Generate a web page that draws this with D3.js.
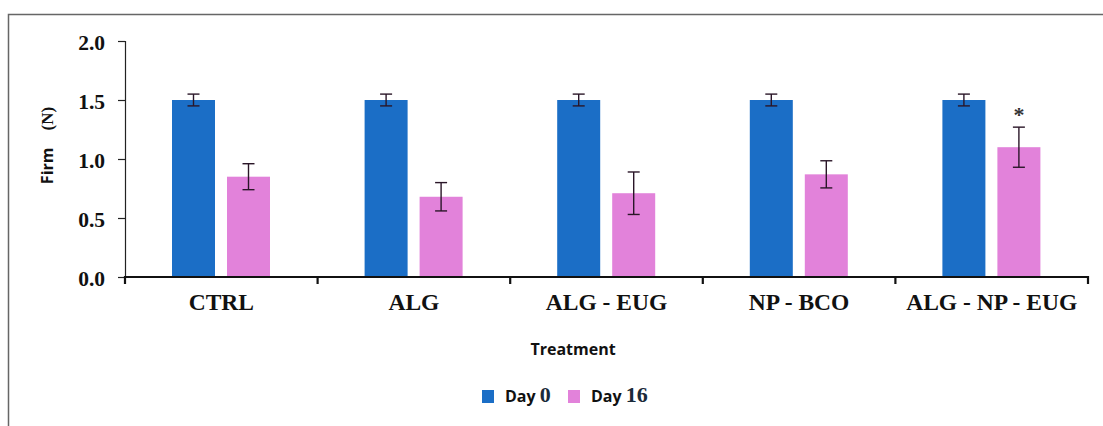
<!DOCTYPE html>
<html>
<head>
<meta charset="utf-8">
<script src="https://cdn.jsdelivr.net/npm/d3@7"></script>
<style>
html,body{margin:0;padding:0;background:#fff;}
svg{display:block;}
</style>
</head>
<body>
<svg id="chart" width="1103" height="426"></svg>
<script>
const categories = ["CTRL", "ALG", "ALG - EUG", "NP - BCO", "ALG - NP - EUG"];
const seriesNames = ["Day 0", "Day 16"];
const day0 = [1.5, 1.5, 1.5, 1.5, 1.5];
const day0Err = [0.05, 0.05, 0.05, 0.05, 0.05];
const day16 = [0.85, 0.68, 0.71, 0.87, 1.10];
const day16Err = [0.11, 0.12, 0.18, 0.115, 0.17];
const significance = ["", "", "", "", "*"];
const yTicks = [0, 0.5, 1.0, 1.5, 2.0];
const colors = ["#1b6ec6", "#e282da"];

const svg = d3.select("#chart");

// frame
svg.append("path")
  .attr("d", "M8.5,426 L8.5,14.5 L1103,14.5")
  .attr("fill", "none").attr("stroke", "#666").attr("stroke-width", 1.5);

const x = d3.scaleBand().domain(categories).range([125, 1088]).paddingInner(0).paddingOuter(0);
const bw = x.bandwidth();
const xs = d3.scaleBand().domain(seriesNames)
  .range([bw * 47 / 192.6, bw * 145 / 192.6]).paddingInner(12 / 55).paddingOuter(0);
const y = d3.scaleLinear().domain([0, 2]).range([277, 41]);

const data = categories.map((c, i) => ({
  cat: c,
  vals: [
    {s: seriesNames[0], v: day0[i], e: day0Err[i], sig: ""},
    {s: seriesNames[1], v: day16[i], e: day16Err[i], sig: significance[i]}
  ]
}));

// y axis
const yAxis = d3.axisLeft(y).tickValues(yTicks).tickFormat(d3.format(".1f")).tickSize(7).tickPadding(13);
const gy = svg.append("g").attr("transform", "translate(125,0)").call(yAxis);
gy.select(".domain").attr("stroke", "#222").attr("stroke-width", 1.2);
gy.selectAll(".tick line").attr("stroke", "#222").attr("stroke-width", 1.2);
gy.selectAll(".tick text")
  .attr("font-family", "'Liberation Serif', 'Times New Roman', serif")
  .attr("font-weight", "bold").attr("font-size", 21.5).attr("fill", "#111")
  .attr("dy", "0.4em");

// bars
const groups = svg.append("g").selectAll("g").data(data).join("g")
  .attr("transform", d => `translate(${x(d.cat)},0)`);
groups.selectAll("rect").data(d => d.vals).join("rect")
  .attr("x", d => xs(d.s)).attr("width", xs.bandwidth())
  .attr("y", d => y(d.v)).attr("height", d => y(0) - y(d.v))
  .attr("fill", (d, i) => colors[i]);

// error bars
const eb = groups.selectAll("g.err").data(d => d.vals).join("g").attr("class", "err")
  .attr("transform", d => `translate(${xs(d.s) + xs.bandwidth() / 2},0)`);
eb.append("line").attr("x1", 0).attr("x2", 0)
  .attr("y1", d => y(d.v + d.e)).attr("y2", d => y(d.v - d.e))
  .attr("stroke", "#2a1628").attr("stroke-width", 1.4);
eb.append("line").attr("x1", -6).attr("x2", 6)
  .attr("y1", d => y(d.v + d.e)).attr("y2", d => y(d.v + d.e))
  .attr("stroke", "#2a1628").attr("stroke-width", 1.4);
eb.append("line").attr("x1", -6).attr("x2", 6)
  .attr("y1", d => y(d.v - d.e)).attr("y2", d => y(d.v - d.e))
  .attr("stroke", "#2a1628").attr("stroke-width", 1.4);
eb.filter(d => d.sig).append("text")
  .attr("x", 0).attr("y", d => y(d.v + d.e) - 5)
  .attr("text-anchor", "middle")
  .attr("font-family", "'Liberation Serif', serif").attr("font-weight", "bold").attr("font-size", 22)
  .attr("fill", "#333").text(d => d.sig);

// x axis
const xAxis = d3.axisBottom(x).tickSize(0).tickPadding(14);
const gx = svg.append("g").attr("transform", `translate(0,${y(0)})`).call(xAxis);
gx.select(".domain").attr("stroke", "#111").attr("stroke-width", 2.2)
  .attr("d", `M125,7V0H1088V7`);
gx.selectAll(".tick text")
  .attr("y", 33).attr("dy", 0)
  .attr("font-family", "'Liberation Serif', 'Times New Roman', serif")
  .attr("font-weight", "bold").attr("font-size", 23.5).attr("fill", "#111");
// boundary ticks
gx.append("g").selectAll("line").data(categories.slice(1)).join("line")
  .attr("x1", d => x(d)).attr("x2", d => x(d)).attr("y1", 0).attr("y2", 7)
  .attr("stroke", "#111").attr("stroke-width", 2.2);

// axis titles
const yl = svg.append("text")
  .attr("transform", "translate(53,145.5) rotate(-90)")
  .attr("text-anchor", "middle").attr("fill", "#111");
yl.append("tspan").attr("font-family", "'Open Sans', sans-serif").attr("font-weight", "bold")
  .attr("font-size", 16).text("Firm");
yl.append("tspan").attr("dx", 17).attr("font-family", "'Liberation Serif', serif")
  .attr("font-weight", "bold").attr("font-size", 17).text("(N)");

svg.append("text").attr("x", 573).attr("y", 355).attr("text-anchor", "middle")
  .attr("font-family", "'Open Sans', sans-serif").attr("font-weight", "bold")
  .attr("font-size", 16).attr("fill", "#111").text("Treatment");

// legend
const legendX = [482, 568];
const lg = svg.append("g").selectAll("g").data(seriesNames).join("g")
  .attr("transform", (d, i) => `translate(${legendX[i]},390)`);
lg.append("rect").attr("width", 12).attr("height", 13).attr("fill", (d, i) => colors[i]);
const lt = lg.append("text").attr("x", 23).attr("y", 12).attr("fill", "#111");
lt.append("tspan").attr("font-family", "'Open Sans', sans-serif").attr("font-weight", "bold")
  .attr("font-size", 16).text(d => d.split(" ")[0] + " ");
lt.append("tspan").attr("font-family", "'Liberation Serif', serif").attr("font-weight", "bold")
  .attr("font-size", 22).attr("fill", "#1a2a3a").text(d => d.split(" ")[1]);
</script>
</body>
</html>
